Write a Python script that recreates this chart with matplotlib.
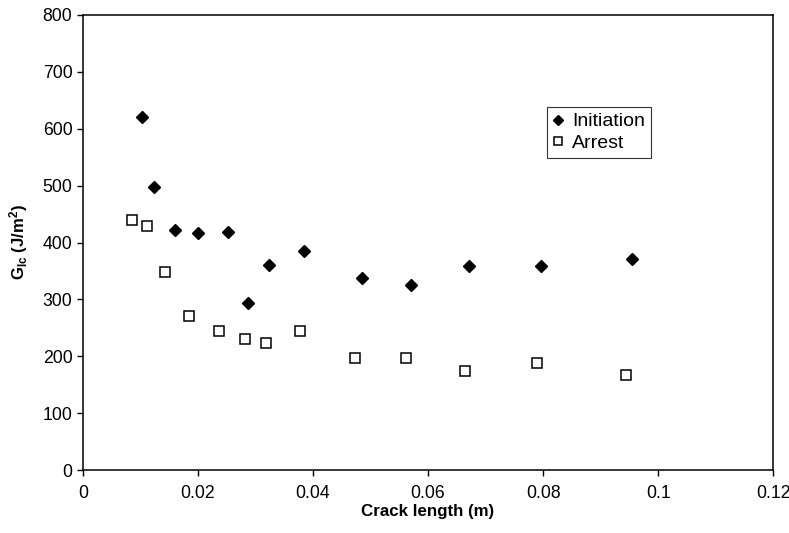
import matplotlib
matplotlib.use("Agg")
import matplotlib.pyplot as plt

plt.rcParams["font.family"] = ["Liberation Sans", "DejaVu Sans"]
plt.rcParams["mathtext.fontset"] = "custom"
plt.rcParams["mathtext.bf"] = "Liberation Sans:bold"
plt.rcParams["mathtext.default"] = "bf"

# crack length (m) vs critical energy release rate (J/m^2)
init_a = [0.0102, 0.0123, 0.0160, 0.0200, 0.0253, 0.0287, 0.0324, 0.0385,
          0.0485, 0.0570, 0.0672, 0.0797, 0.0955]
init_g = [621, 497, 422, 416, 418, 293, 360, 385, 338, 326, 359, 359, 371]

arrest_a = [0.0086, 0.0112, 0.0143, 0.0184, 0.0236, 0.0282, 0.0318, 0.0378,
            0.0473, 0.0562, 0.0664, 0.0789, 0.0944]
arrest_g = [440, 429, 349, 271, 245, 231, 224, 245, 197, 197, 174, 188, 167]

x_ticks = [0, 0.02, 0.04, 0.06, 0.08, 0.1, 0.12]
x_labels = ["0", "0.02", "0.04", "0.06", "0.08", "0.1", "0.12"]
y_ticks = [0, 100, 200, 300, 400, 500, 600, 700, 800]

fig = plt.figure(figsize=(7.89, 5.33), dpi=100)
ax = fig.add_axes([0.105, 0.118, 0.875, 0.854])

ax.plot(init_a, init_g, linestyle="none", marker="D", markersize=6.5,
        color="black", label="Initiation")
ax.plot(arrest_a, arrest_g, linestyle="none", marker="s", markersize=6.5,
        markerfacecolor="white", markeredgecolor="black", markeredgewidth=1.1,
        label="Arrest")

ax.set_xlim(0, 0.12)
ax.set_ylim(0, 800)
ax.set_xticks(x_ticks)
ax.set_xticklabels(x_labels)
ax.set_yticks(y_ticks)
ax.tick_params(direction="out", length=4, width=1, labelsize=12.7, colors="black")
ax.tick_params(axis="x", pad=7)

for s in ax.spines.values():
    s.set_linewidth(1.1)
    s.set_color("black")

ax.set_xlabel("Crack length (m)", fontsize=12.2, fontweight="bold", labelpad=1)
ax.set_ylabel("G$_{Ic}$ (J/m$^{2}$)", fontsize=12, fontweight="bold", labelpad=9)

leg = ax.legend(loc="upper left", bbox_to_anchor=(0.672, 0.798), fontsize=14,
                frameon=True, fancybox=False, handlelength=0.6, handletextpad=0.4,
                borderpad=0.3, labelspacing=0.2, markerscale=0.85, borderaxespad=0)
leg.get_frame().set_edgecolor("black")
leg.get_frame().set_linewidth(0.8)

fig.savefig("out.png", dpi=100)
